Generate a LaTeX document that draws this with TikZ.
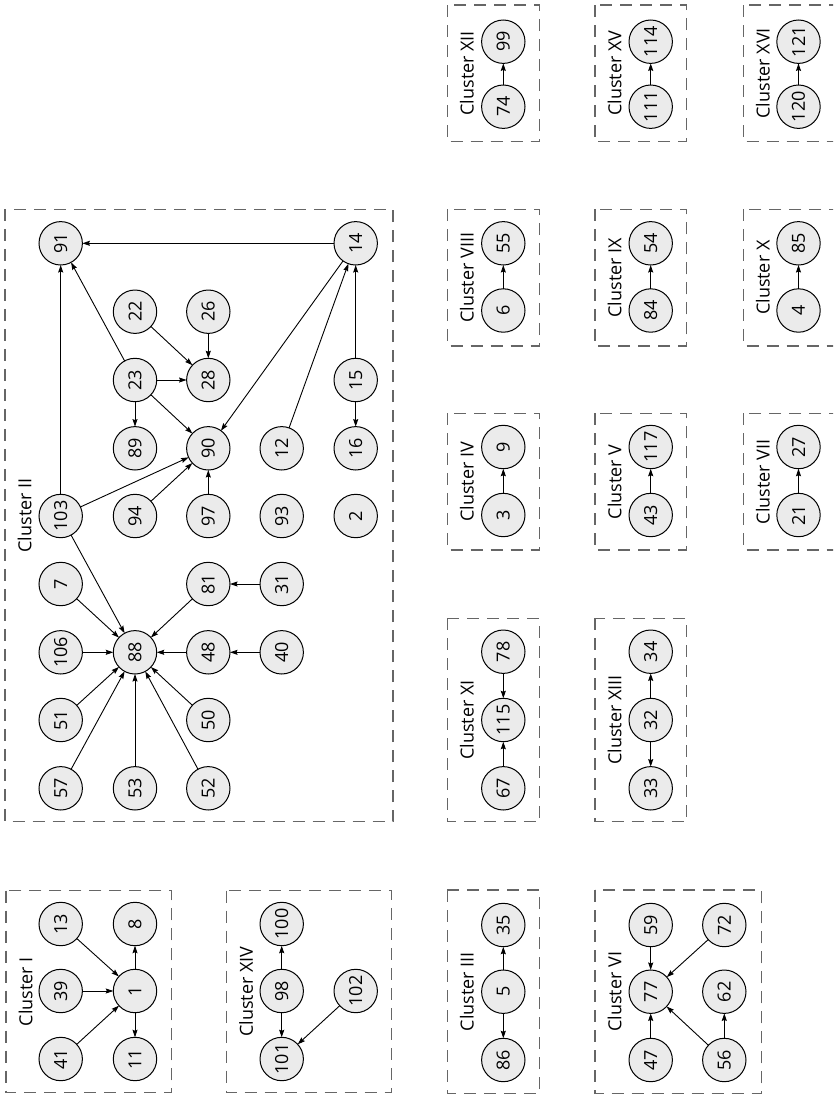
\documentclass[tikz,border=0pt]{standalone}
\usepackage{fontspec}
\setmainfont{Open Sans}
\usetikzlibrary{arrows.meta}
\begin{document}
\begin{tikzpicture}[x=1pt,y=-1pt,
  nd/.style={circle,draw=black,line width=1pt,fill=black!8,minimum size=43.4pt,inner sep=0pt,outer sep=0pt,rotate=90,font=\fontsize{18}{21}\selectfont},
  clbox/.style={draw=black!60,line width=1.2pt,dash pattern=on 12pt off 8pt},
  cllab/.style={rotate=90,font=\fontsize{18}{21}\selectfont,inner sep=0pt},
  ed/.style={line width=0.9pt,-{Stealth[length=7.5pt,width=5pt,inset=1pt]}}]
\clip (0,0) rectangle (833,1095);
% ---------- cluster boxes ----------
\draw[clbox] (6,890.7) rectangle (171.7,1092.7);
\draw[clbox] (226.7,890.7) rectangle (391.7,1092.7);
\draw[clbox] (5,209.3) rectangle (393,821.7);
\draw[clbox] (447.3,5) rectangle (539.7,141.7);
\draw[clbox] (595,5) rectangle (686.7,141.7);
\draw[clbox] (743.3,5) rectangle (835.5,141.7);
\draw[clbox] (447.3,209.3) rectangle (539.7,346);
\draw[clbox] (595,209.3) rectangle (686.7,346);
\draw[clbox] (743.3,209.3) rectangle (835.5,346);
\draw[clbox] (447.3,413.3) rectangle (539.7,550);
\draw[clbox] (595,413.3) rectangle (686.7,550);
\draw[clbox] (743.3,413.3) rectangle (835.5,550);
\draw[clbox] (447.3,618.3) rectangle (539.7,821.7);
\draw[clbox] (595,618.3) rectangle (686.7,821.7);
\draw[clbox] (447.3,890) rectangle (539.7,1093.3);
\draw[clbox] (595,890) rectangle (761.7,1093.3);
% ---------- cluster labels ----------
\node[cllab] (lI) at (25.5,991.7) {Cluster I};
\node[cllab] (lXIV) at (246.2,991.7) {Cluster XIV};
\node[cllab] (lII) at (24.5,515.5) {Cluster II};
\node[cllab] (lXII) at (466.8,73.3) {Cluster XII};
\node[cllab] (lXV) at (614.5,73.3) {Cluster XV};
\node[cllab] (lXVI) at (762.8,73.3) {Cluster XVI};
\node[cllab] (lVIII) at (466.8,277.7) {Cluster VIII};
\node[cllab] (lIX) at (614.5,277.7) {Cluster IX};
\node[cllab] (lX) at (762.8,277.7) {Cluster X};
\node[cllab] (lIV) at (466.8,481.7) {Cluster IV};
\node[cllab] (lV) at (614.5,481.7) {Cluster V};
\node[cllab] (lVII) at (762.8,481.7) {Cluster VII};
\node[cllab] (lXI) at (466.8,720) {Cluster XI};
\node[cllab] (lXIII) at (614.5,720) {Cluster XIII};
\node[cllab] (lIII) at (466.8,991.7) {Cluster III};
\node[cllab] (lVI) at (614.5,991.7) {Cluster VI};
% ---------- Cluster I ----------
\node[nd] (n13) at (60.7,924) {13};
\node[nd] (n39) at (60.7,991) {39};
\node[nd] (n41) at (60.7,1059) {41};
\node[nd] (n8) at (135,924) {8};
\node[nd] (n1) at (135,991) {1};
\node[nd] (n11) at (135,1059) {11};
\draw[ed] (n13) -- (n1);
\draw[ed] (n39) -- (n1);
\draw[ed] (n41) -- (n1);
\draw[ed] (n1) -- (n8);
\draw[ed] (n1) -- (n11);
% ---------- Cluster XIV ----------
\node[nd] (n100) at (281.7,924) {100};
\node[nd] (n98) at (281.7,991) {98};
\node[nd] (n101) at (281.7,1059) {101};
\node[nd] (n102) at (355.7,991) {102};
\draw[ed] (n98) -- (n100);
\draw[ed] (n98) -- (n101);
\draw[ed] (n102) -- (n101);
% ---------- Cluster II ----------
\node[nd] (n91) at (60.7,243.3) {91};
\node[nd] (n14) at (355.7,243.3) {14};
\node[nd] (n22) at (135,311.7) {22};
\node[nd] (n26) at (208.3,311.7) {26};
\node[nd] (n23) at (135,380) {23};
\node[nd] (n28) at (208.3,380) {28};
\node[nd] (n15) at (355.7,380) {15};
\node[nd] (n89) at (135,448.3) {89};
\node[nd] (n90) at (208.3,448.3) {90};
\node[nd] (n12) at (281.7,448.3) {12};
\node[nd] (n16) at (355.7,448.3) {16};
\node[nd] (n103) at (60.7,516) {103};
\node[nd] (n94) at (135,516) {94};
\node[nd] (n97) at (208.3,516) {97};
\node[nd] (n93) at (281.7,516) {93};
\node[nd] (n2) at (355.7,516) {2};
\node[nd] (n7) at (60.7,584) {7};
\node[nd] (n81) at (208.3,584) {81};
\node[nd] (n31) at (281.7,584) {31};
\node[nd] (n106) at (60.7,652.3) {106};
\node[nd] (n88) at (135,652.3) {88};
\node[nd] (n48) at (208.3,652.3) {48};
\node[nd] (n40) at (281.7,652.3) {40};
\node[nd] (n51) at (60.7,720) {51};
\node[nd] (n50) at (208.3,720) {50};
\node[nd] (n57) at (60.7,788.3) {57};
\node[nd] (n53) at (135,788.3) {53};
\node[nd] (n52) at (208.3,788.3) {52};
\draw[ed] (n14) -- (n91);
\draw[ed] (n103) -- (n91);
\draw[ed] (n23) -- (n91);
\draw[ed] (n22) -- (n28);
\draw[ed] (n26) -- (n28);
\draw[ed] (n23) -- (n28);
\draw[ed] (n23) -- (n89);
\draw[ed] (n23) -- (n90);
\draw[ed] (n14) -- (n90);
\draw[ed] (n12) -- (n14);
\draw[ed] (n15) -- (n14);
\draw[ed] (n15) -- (n16);
\draw[ed] (n103) -- (n90);
\draw[ed] (n94) -- (n90);
\draw[ed] (n97) -- (n90);
\draw[ed] (n7) -- (n88);
\draw[ed] (n103) -- (n88);
\draw[ed] (n81) -- (n88);
\draw[ed] (n31) -- (n81);
\draw[ed] (n106) -- (n88);
\draw[ed] (n48) -- (n88);
\draw[ed] (n40) -- (n48);
\draw[ed] (n51) -- (n88);
\draw[ed] (n57) -- (n88);
\draw[ed] (n53) -- (n88);
\draw[ed] (n52) -- (n88);
\draw[ed] (n50) -- (n88);
% ---------- two-node clusters ----------
\node[nd] (n99) at (503.3,41.7) {99};
\node[nd] (n74) at (503.3,106.7) {74};
\node[nd] (n114) at (650.7,41.7) {114};
\node[nd] (n111) at (650.7,106.7) {111};
\node[nd] (n121) at (798.5,41.7) {121};
\node[nd] (n120) at (798.5,106.7) {120};
\draw[ed] (n74) -- (n99);
\draw[ed] (n111) -- (n114);
\draw[ed] (n120) -- (n121);
\node[nd] (n55) at (503.3,243.3) {55};
\node[nd] (n6) at (503.3,310.5) {6};
\node[nd] (n54) at (650.7,243.3) {54};
\node[nd] (n84) at (650.7,310.5) {84};
\node[nd] (n85) at (798.5,243.3) {85};
\node[nd] (n4) at (798.5,310.5) {4};
\draw[ed] (n6) -- (n55);
\draw[ed] (n84) -- (n54);
\draw[ed] (n4) -- (n85);
\node[nd] (n9) at (503.3,447) {9};
\node[nd] (n3) at (503.3,515) {3};
\node[nd] (n117) at (650.7,447) {117};
\node[nd] (n43) at (650.7,515) {43};
\node[nd] (n27) at (798.5,447) {27};
\node[nd] (n21) at (798.5,515) {21};
\draw[ed] (n3) -- (n9);
\draw[ed] (n43) -- (n117);
\draw[ed] (n21) -- (n27);
% ---------- Cluster XI ----------
\node[nd] (n78) at (503.3,651.7) {78};
\node[nd] (n115) at (503.3,720) {115};
\node[nd] (n67) at (503.3,788.3) {67};
\draw[ed] (n67) -- (n115);
\draw[ed] (n78) -- (n115);
% ---------- Cluster XIII ----------
\node[nd] (n34) at (650.7,651.7) {34};
\node[nd] (n32) at (650.7,720) {32};
\node[nd] (n33) at (650.7,788.3) {33};
\draw[ed] (n32) -- (n33);
\draw[ed] (n32) -- (n34);
% ---------- Cluster III ----------
\node[nd] (n35) at (503.3,925) {35};
\node[nd] (n5) at (503.3,991.7) {5};
\node[nd] (n86) at (503.3,1060) {86};
\draw[ed] (n5) -- (n86);
\draw[ed] (n5) -- (n35);
% ---------- Cluster VI ----------
\node[nd] (n59) at (650.7,925) {59};
\node[nd] (n77) at (650.7,991.7) {77};
\node[nd] (n47) at (650.7,1060) {47};
\node[nd] (n72) at (724.3,925) {72};
\node[nd] (n62) at (724.3,991.7) {62};
\node[nd] (n56) at (724.3,1060) {56};
\draw[ed] (n59) -- (n77);
\draw[ed] (n72) -- (n77);
\draw[ed] (n47) -- (n77);
\draw[ed] (n56) -- (n77);
\draw[ed] (n56) -- (n62);
\end{tikzpicture}
\end{document}
